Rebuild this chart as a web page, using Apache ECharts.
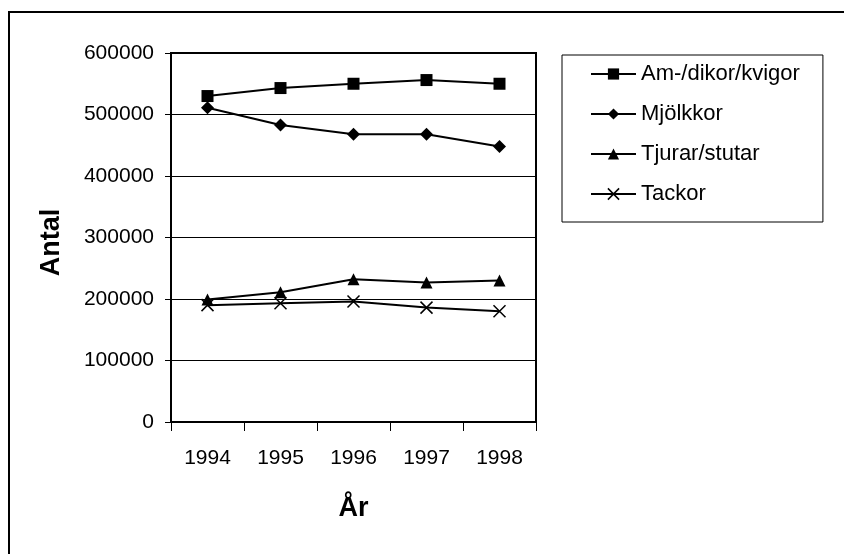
<!DOCTYPE html>
<html>
<head>
<meta charset="utf-8">
<script src="https://cdn.jsdelivr.net/npm/echarts@6/dist/echarts.min.js"></script>
<style>
html,body{margin:0;padding:0;background:#fff;}
#c{width:844px;height:554px;}
</style>
</head>
<body>
<div id="c"></div>
<script>
var years = ['1994', '1995', '1996', '1997', '1998'];
var amDikorKvigor = [530000, 543000, 550000, 556000, 550000];
var mjolkkor = [511000, 483000, 468000, 468000, 448000];
var tjurarStutar = [199000, 211000, 232000, 227000, 230000];
var tackor = [190000, 193000, 196000, 186000, 180000];
var seriesNames = ['Am-/dikor/kvigor', 'Mjölkkor', 'Tjurar/stutar', 'Tackor'];
var yTickStep = 100000;
var yMax = 600000;

var FONT = 'Liberation Sans, Arial, sans-serif';
var chart = echarts.init(document.getElementById('c'), null, {renderer: 'canvas'});

function lineSeries(name, data, symbol, size, extraStyle) {
  return {
    name: name,
    type: 'line',
    data: data,
    symbol: symbol,
    symbolSize: size,
    showAllSymbol: true,
    lineStyle: {color: '#000', width: 2},
    itemStyle: Object.assign({color: '#000'}, extraStyle || {}),
    emphasis: {disabled: true},
    animation: false,
    z: 3
  };
}

var crossPath = 'path://M0,0L10,10M10,0L0,10';

var option = {
  backgroundColor: '#fff',
  animation: false,
  textStyle: {fontFamily: FONT, color: '#000'},
  grid: {
    left: 171, right: 308, top: 53, bottom: 132,
    show: true, borderColor: '#000', borderWidth: 2, backgroundColor: 'transparent'
  },
  legend: {
    orient: 'vertical',
    left: 562, top: 55,
    padding: [8, 23, 17, 28],
    itemWidth: 45, itemHeight: 14, itemGap: 18,
    borderColor: '#000', borderWidth: 1,
    textStyle: {fontFamily: FONT, fontSize: 22, color: '#000', padding: [0, 0, 0, 0], lineHeight: 22},
    itemStyle: {borderWidth: 'inherit'},
    data: seriesNames,
    selectedMode: false
  },
  xAxis: {
    type: 'category',
    data: years,
    boundaryGap: true,
    name: 'År',
    nameLocation: 'middle',
    nameGap: 73,
    nameTextStyle: {fontFamily: FONT, fontSize: 27, fontWeight: 'bold', color: '#000'},
    axisLine: {lineStyle: {color: '#000', width: 2}},
    axisTick: {show: true, inside: false, length: 9, alignWithLabel: false, lineStyle: {color: '#000', width: 1}},
    axisLabel: {fontFamily: FONT, fontSize: 21, color: '#000', margin: 26},
    splitLine: {show: false}
  },
  yAxis: {
    type: 'value',
    min: 0, max: yMax, interval: yTickStep,
    name: 'Antal',
    nameLocation: 'middle',
    nameGap: 106,
    nameRotate: 90,
    nameTextStyle: {fontFamily: FONT, fontSize: 27, fontWeight: 'bold', color: '#000', padding: [0, 10, 0, 0]},
    axisLine: {show: true, lineStyle: {color: '#000', width: 2}},
    axisTick: {show: true, inside: false, length: 6, lineStyle: {color: '#000', width: 1}},
    axisLabel: {fontFamily: FONT, fontSize: 21, color: '#000', margin: 17, formatter: function (v) { return String(v); }},
    splitLine: {show: true, lineStyle: {color: '#000', width: 1}}
  },
  series: [
    lineSeries(seriesNames[0], amDikorKvigor, 'rect', [12, 12]),
    lineSeries(seriesNames[1], mjolkkor, 'diamond', [13, 13]),
    lineSeries(seriesNames[2], tjurarStutar, 'triangle', [12, 12]),
    lineSeries(seriesNames[3], tackor, crossPath, [12, 12], {color: 'transparent', borderColor: '#000', borderWidth: 1.5})
  ],
  graphic: [
    {type: 'line', shape: {x1: 9, y1: 12, x2: 9, y2: 554}, style: {stroke: '#000', lineWidth: 2}, silent: true},
    {type: 'line', shape: {x1: 8, y1: 12, x2: 844, y2: 12}, style: {stroke: '#000', lineWidth: 2}, silent: true}
  ]
};
chart.setOption(option);
</script>
</body>
</html>
